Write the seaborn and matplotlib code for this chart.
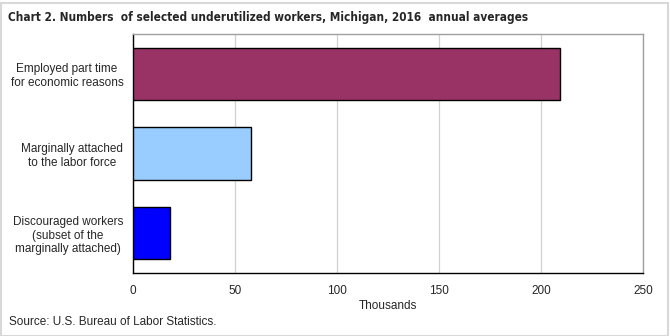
import matplotlib
matplotlib.use("Agg")
import matplotlib.pyplot as plt
import seaborn as sns
import pandas as pd
from matplotlib.patches import Rectangle

categories = ["Employed part time\nfor economic reasons",
              "Marginally attached\nto the labor force",
              "Discouraged workers\n(subset of the\nmarginally attached)"]
values = [209.5, 58.0, 18.1]
colors = ["#993366", "#99CCFF", "#0000FF"]
xticks = [0, 50, 100, 150, 200, 250]

df = pd.DataFrame({"category": categories, "value": values})

sns.set_theme(style="white")
plt.rcParams['font.family'] = ['Liberation Sans', 'DejaVu Sans']

fig = plt.figure(figsize=(6.7, 3.36), dpi=100)
W, H = 670, 336
ax = fig.add_axes([133 / W, 1 - 273 / H, (643 - 133) / W, (273 - 34) / H])

sns.barplot(data=df, x="value", y="category", hue="category", palette=colors,
            orient="h", width=0.66, edgecolor="black", linewidth=1.0,
            saturation=1, legend=False, ax=ax, zorder=3)

ax.set_xlim(0, 250)
ax.set_xticks(xticks)
ax.set_xticklabels([str(t) for t in xticks], fontsize=8.5)
ax.xaxis.grid(True, color="#d0d0d0", linewidth=0.9, zorder=0)
ax.set_axisbelow(True)
ax.tick_params(axis="x", length=0, pad=9)
ax.tick_params(axis="y", length=0, pad=7)
for lab in ax.get_yticklabels():
    lab.set_fontsize(8.5)
    lab.set_multialignment("center")
ax.set_ylabel("")
ax.set_xlabel("Thousands", fontsize=8.5, labelpad=2)
for s in ["left", "bottom"]:
    ax.spines[s].set_color("black")
    ax.spines[s].set_linewidth(1.0)
for s in ["top", "right"]:
    ax.spines[s].set_color("#a0a0a0")
    ax.spines[s].set_linewidth(1.0)

fig.text(8 / W, 1 - 17 / H,
         "Chart 2. Numbers  of selected underutilized workers, Michigan, 2016  annual averages",
         fontsize=8.5, fontweight="bold", fontstretch="condensed", va="center", ha="left",
         family=['DejaVu Sans'])
fig.text(9 / W, 1 - 322 / H, "Source: U.S. Bureau of Labor Statistics.",
         fontsize=8.5, va="center", ha="left")

fig.patches.append(Rectangle((0.5 / W, 0.5 / H), (W - 2.5) / W, (H - 3) / H,
                             transform=fig.transFigure, fill=False,
                             edgecolor="#d8d8d8", linewidth=1.5))

fig.savefig("out.png", dpi=100)
